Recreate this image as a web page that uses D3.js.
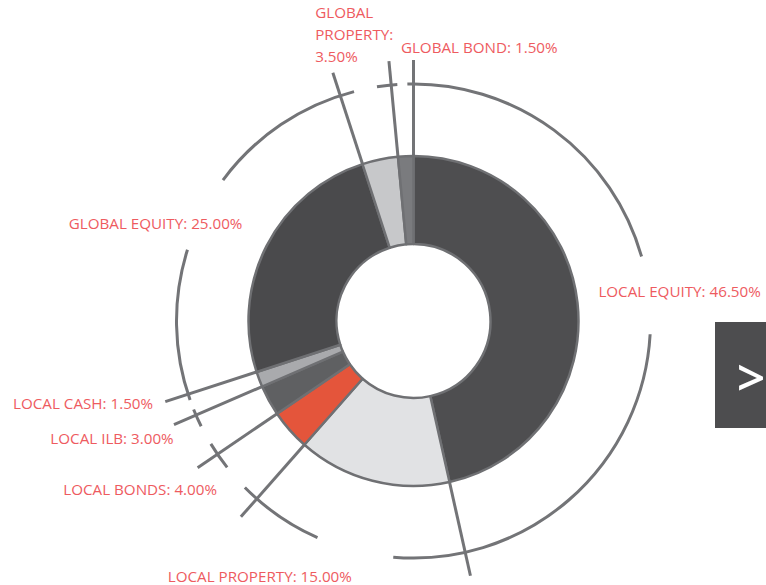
<!DOCTYPE html>
<html>
<head>
<meta charset="utf-8">
<script src="https://cdn.jsdelivr.net/npm/d3@7"></script>
<style>
  html, body { margin: 0; padding: 0; background: #ffffff; overflow: hidden; }
  svg { display: block; }
</style>
</head>
<body>
<svg id="chart" width="766" height="585"></svg>
<script>
// Asset allocation, in slice order (clockwise from 12 o'clock)
const categories = ["LOCAL EQUITY", "LOCAL PROPERTY", "LOCAL BONDS", "LOCAL ILB",
                    "LOCAL CASH", "GLOBAL EQUITY", "GLOBAL PROPERTY", "GLOBAL BOND"];
const allocations = [46.5, 15.0, 4.0, 3.0, 1.5, 25.0, 3.5, 1.5];
const sliceColors = ["#4e4e50", "#e1e2e4", "#e4553b", "#5f6062",
                     "#a9aaad", "#4a4a4c", "#c7c8ca", "#7a7b7e"];

// Label placement: radius from centre, text anchor, small nudges, wrapping
const labelLayout = [
  { r: 186, anchor: "start", dx: 0,   dy: -3.5, wrap: false },
  { r: 268, anchor: "end",   dx: 5,   dy: 1,    wrap: false },
  { r: 262, anchor: "end",   dx: 0,   dy: 0.5,  wrap: false },
  { r: 268, anchor: "end",   dx: -5,  dy: -6,   wrap: false },
  { r: 272, anchor: "end",   dx: -6,  dy: -8,   wrap: false },
  { r: 192, anchor: "end",   dx: 0,   dy: -4.5, wrap: false },
  { r: 268, anchor: "start", dx: -44, dy: 3,    wrap: true  },
  { r: 268, anchor: "start", dx: 0,   dy: 0,    wrap: false }
];

const W = 766, H = 585;
const cx = 413.5, cy = 321;
const innerR = 77, outerR = 165;
const ringR = 237, leaderEnd = 261;
const lineColor = "#737477";
const labelColor = "#ee5b5f";
const fmt = d3.format(".2f");

const svg = d3.select("#chart");
const g = svg.append("g").attr("transform", `translate(${cx},${cy})`);

const pie = d3.pie().sort(null).value(d => d)
  .startAngle(0).endAngle(2 * Math.PI);
const slices = pie(allocations);

const arc = d3.arc().innerRadius(innerR).outerRadius(outerR);

// Outer ring: one segment per slice boundary, each running between the
// neighbouring slices' mid-angles and leaving a gap around each mid-angle
const maxGap = 19 * Math.PI / 180;
const gapOf = s => Math.min(0.45 * (s.endAngle - s.startAngle), maxGap);
const midOf = s => (s.startAngle + s.endAngle) / 2;

const ringSegments = slices.map((s, i) => {
  const next = slices[(i + 1) % slices.length];
  let a0 = midOf(s) + gapOf(s) / 2;
  let a1 = midOf(next) - gapOf(next) / 2;
  if (a1 < a0) a1 += 2 * Math.PI;
  return { a0, a1 };
});

g.append("g").attr("class", "ring")
  .selectAll("path")
  .data(ringSegments)
  .join("path")
  .attr("d", d => {
    const p = d3.path();
    p.arc(0, 0, ringR, d.a0 - Math.PI / 2, d.a1 - Math.PI / 2);
    return p.toString();
  })
  .attr("fill", "none")
  .attr("stroke", lineColor)
  .attr("stroke-width", 3);

// Radial leader lines at every slice boundary
g.append("g").attr("class", "leaders")
  .selectAll("line")
  .data(slices)
  .join("line")
  .each(function (d) {
    const p0 = d3.pointRadial(d.endAngle, outerR);
    const p1 = d3.pointRadial(d.endAngle, leaderEnd);
    d3.select(this)
      .attr("x1", p0[0]).attr("y1", p0[1])
      .attr("x2", p1[0]).attr("y2", p1[1]);
  })
  .attr("stroke", lineColor)
  .attr("stroke-width", 3);

// Donut slices
g.append("g").attr("class", "slices")
  .selectAll("path")
  .data(slices)
  .join("path")
  .attr("d", arc)
  .attr("fill", (d, i) => sliceColors[i])
  .attr("stroke", "#6f7073")
  .attr("stroke-width", 2.5)
  .attr("stroke-linejoin", "round");

// Labels
g.append("g").attr("class", "labels")
  .selectAll("text")
  .data(slices)
  .join("text")
  .attr("font-family", "'Open Sans', 'Noto Sans', sans-serif")
  .attr("font-size", 15.2)
  .attr("fill", labelColor)
  .each(function (d, i) {
    const L = labelLayout[i];
    const p = d3.pointRadial(midOf(d), L.r);
    const txt = `${categories[i]}: ${fmt(allocations[i])}%`;
    const t = d3.select(this).attr("text-anchor", L.anchor);
    const x = p[0] + L.dx, y = p[1] + L.dy;
    if (L.wrap) {
      const words = txt.split(" ");
      const lh = 21.7;
      const y0 = y - lh * (words.length - 1);
      words.forEach((w, k) => {
        t.append("tspan").attr("x", x).attr("y", y0 + k * lh).text(w);
      });
    } else {
      t.attr("x", x).attr("y", y).text(txt);
    }
  });

// Navigation tab on the right edge
const nav = svg.append("g").attr("class", "nav");
nav.append("rect")
  .attr("x", 715).attr("y", 322).attr("width", 51).attr("height", 106)
  .attr("fill", "#4d4d4f");
nav.append("text")
  .attr("x", 751).attr("y", 377)
  .attr("text-anchor", "middle")
  .attr("dominant-baseline", "central")
  .attr("font-family", "'Open Sans', sans-serif")
  .attr("font-weight", 600)
  .attr("font-size", 50)
  .attr("fill", "#ffffff")
  .text(">");
</script>
</body>
</html>
